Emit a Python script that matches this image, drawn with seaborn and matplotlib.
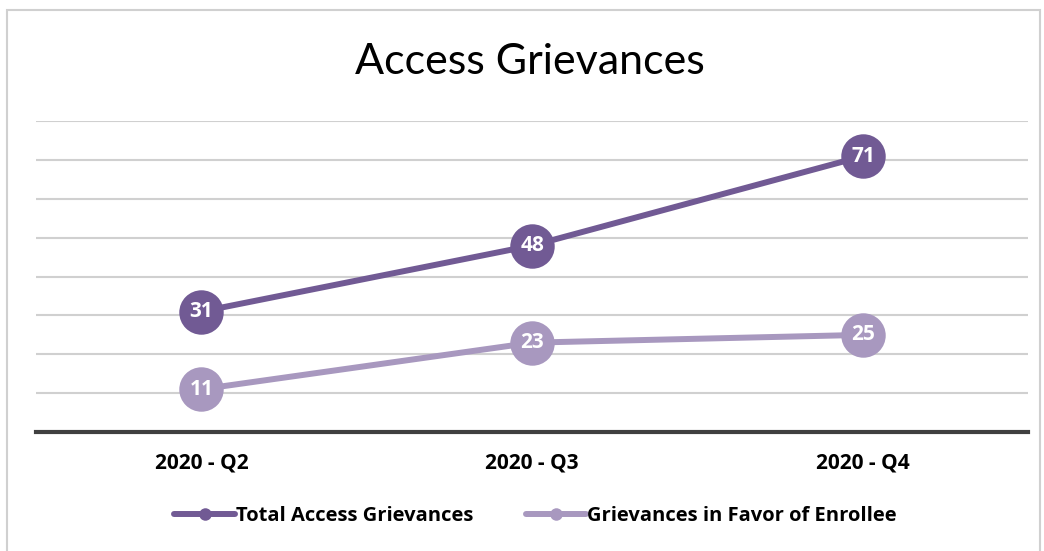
import matplotlib.pyplot as plt
import matplotlib.patches as mpatches
from matplotlib.lines import Line2D
import seaborn as sns
import pandas as pd

quarters = ['2020 - Q2', '2020 - Q3', '2020 - Q4']
total_access = [31, 48, 71]
in_favor = [11, 23, 25]
series_names = ['Total Access Grievances', 'Grievances in Favor of Enrollee']
colors = ['#715a94', '#a898bf']

sns.set_theme(style='white')
plt.rcParams['font.family'] = ['Open Sans', 'DejaVu Sans']
plt.rcParams['text.color'] = 'black'
plt.rcParams['xtick.color'] = 'black'

# Таблица в длинном формате
df = pd.DataFrame({
    'quarter': quarters * 2,
    'x': list(range(len(quarters))) * 2,
    'value': total_access + in_favor,
    'series': [series_names[0]] * 3 + [series_names[1]] * 3,
})

fig = plt.figure(figsize=(10.44, 5.51), dpi=100)
ax = fig.add_axes([0.0345, 0.216, 0.9505, 0.564])

# Рамка вокруг графика
fig.patches.append(mpatches.Rectangle((7 / 1044, -0.05), 1033 / 1044, 1 - 10 / 551 + 0.05,
                                      transform=fig.transFigure, fill=False,
                                      edgecolor='#d0d0d0', linewidth=1.5))

sns.lineplot(data=df, x='x', y='value', hue='series', palette=colors,
             hue_order=series_names, linewidth=4.3, marker='o', markersize=32,
             markeredgewidth=0, legend=False, ax=ax, zorder=3)

for name, vals in zip(series_names, [total_access, in_favor]):
    for i, v in enumerate(vals):
        ax.text(i, v, str(v), ha='center', va='center', color='white',
                fontsize=15, fontweight='bold', zorder=5)

ax.set_xlim(-0.5, 2.5)
ax.set_ylim(0, 80)
ax.set_yticks(range(10, 81, 10))
ax.yaxis.grid(True, color='#d0d0d0', linewidth=1.5)
ax.set_yticklabels([])
ax.tick_params(axis='y', length=0)
ax.set_xticks(range(len(quarters)))
ax.set_xticklabels(quarters, fontsize=15, fontweight='bold')
ax.tick_params(axis='x', length=0, pad=15)
ax.set_xlabel('')
ax.set_ylabel('')
for side in ['top', 'right', 'left']:
    ax.spines[side].set_visible(False)
ax.spines['bottom'].set_color('#404040')
ax.spines['bottom'].set_linewidth(3)
ax.spines['bottom'].set_zorder(4)

fig.text(0.508, 0.887, 'Access Grievances', ha='center', va='center',
         fontsize=31, family=['Lato', 'DejaVu Sans'])

handles = [Line2D([0], [0], color=c, linewidth=4.3, marker='o', markersize=9,
                  markeredgewidth=0) for c in colors]
fig.legend(handles, series_names, loc='center', bbox_to_anchor=(0.513, 0.063),
           ncol=2, frameon=False, handlelength=3.0, handletextpad=0.05,
           columnspacing=2.6, prop={'size': 14.5, 'weight': 'bold'})

fig.savefig('out.png', dpi=100)
